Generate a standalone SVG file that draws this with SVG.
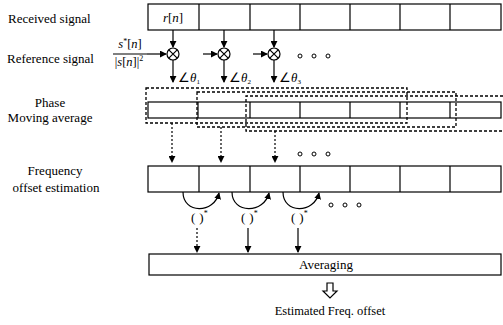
<svg xmlns="http://www.w3.org/2000/svg" width="503" height="325" viewBox="0 0 503 325">
<defs>
<marker id="ah" viewBox="0 0 8 8" refX="7" refY="4" markerWidth="7" markerHeight="7" markerUnits="userSpaceOnUse" orient="auto">
<path d="M0,0 L8,4 L0,8 Z" fill="#000"/>
</marker>
</defs>
<style>
.t{font-family:"Liberation Serif","Times New Roman",serif;font-size:13px;fill:#000}
.tm{text-anchor:middle}
.i{font-style:italic}
.box{fill:#fff;stroke:#000;stroke-width:1.2}
.ln{fill:none;stroke:#000;stroke-width:1.2}
.dash{fill:none;stroke:#000;stroke-width:1.3;stroke-dasharray:3,2}
.arr{fill:none;stroke:#000;stroke-width:1.2;marker-end:url(#ah)}
.darr{fill:none;stroke:#000;stroke-width:1.2;stroke-dasharray:2,2;marker-end:url(#ah)}
.dot{fill:#fff;stroke:#000;stroke-width:1}
</style>

<g id="labels">
<text class="t" x="8" y="23">Received signal</text>
<text class="t" x="7" y="63">Reference signal</text>
<text class="t tm" x="50" y="107">Phase</text>
<text class="t tm" x="50" y="122">Moving average</text>
<text class="t tm" x="55" y="175">Frequency</text>
<text class="t tm" x="56" y="192">offset estimation</text>
</g>

<g id="received">
<rect class="box" x="148" y="4" width="353" height="26"/>
<path class="ln" d="M199,4V30M250,4V30M300,4V30M350,4V30M400,4V30M450,4V30"/>
<text class="t tm i" x="173" y="22">r<tspan font-style="normal">[</tspan>n<tspan font-style="normal">]</tspan></text>
</g>

<g id="reference">
<text class="t tm" x="130" y="48" style="font-size:12.5px"><tspan class="i">s</tspan><tspan dy="-4" font-size="8">*</tspan><tspan dy="4">[</tspan><tspan class="i">n</tspan>]</text>
<text class="t tm" x="129" y="66" style="font-size:12.5px">|<tspan class="i">s</tspan>[<tspan class="i">n</tspan>]|<tspan dy="-5" font-size="8">2</tspan></text>
</g>

<g id="mult1"><circle class="box" cx="173" cy="54" r="6"/><path class="ln" d="M168.8,49.8L177.2,58.2M177.2,49.8L168.8,58.2"/></g>
<g id="mult2"><circle class="box" cx="224" cy="54" r="6"/><path class="ln" d="M219.8,49.8L228.2,58.2M228.2,49.8L219.8,58.2"/></g>
<g id="mult3"><circle class="box" cx="274" cy="54" r="6"/><path class="ln" d="M269.8,49.8L278.2,58.2M278.2,49.8L269.8,58.2"/></g>

<g id="dots1">
<circle class="dot" cx="300" cy="56" r="2"/><circle class="dot" cx="314" cy="56" r="2"/><circle class="dot" cx="328" cy="56" r="2"/>
</g>

<g id="angles">
<text class="t" x="178" y="82">∠<tspan class="i">θ</tspan><tspan font-size="7" dy="2">1</tspan></text>
<text class="t" x="229" y="82">∠<tspan class="i">θ</tspan><tspan font-size="7" dy="2">2</tspan></text>
<text class="t" x="279" y="82">∠<tspan class="i">θ</tspan><tspan font-size="7" dy="2">3</tspan></text>
</g>

<g id="moving-average">
<rect class="box" x="148" y="102" width="353" height="16"/>
<path class="ln" d="M198,102V118M250,102V118M300,102V118M350,102V118M400,102V118M450,102V118"/>
<rect class="dash" x="146" y="88" width="261" height="35"/>
<rect class="dash" x="197" y="92" width="259" height="35"/>
<path class="dash" d="M503,96H246V131H503"/>
</g>

<g id="freq-offset">
<rect class="box" x="148" y="166" width="353" height="26"/>
<path class="ln" d="M199,166V192M250,166V192M300,166V192M350,166V192M400,166V192M450,166V192"/>
</g>

<g id="dots2">
<circle class="dot" cx="300" cy="154" r="2"/><circle class="dot" cx="314" cy="154" r="2"/><circle class="dot" cx="328" cy="154" r="2"/>
</g>

<g id="conj">
<text class="t" x="191" y="222">(<tspan dx="4">)</tspan><tspan dy="-6" font-size="8">*</tspan></text>
<text class="t" x="241" y="222">(<tspan dx="4">)</tspan><tspan dy="-6" font-size="8">*</tspan></text>
<text class="t" x="291" y="222">(<tspan dx="4">)</tspan><tspan dy="-6" font-size="8">*</tspan></text>
</g>

<g id="dots3">
<circle class="dot" cx="331" cy="205" r="2"/><circle class="dot" cx="345" cy="205" r="2"/><circle class="dot" cx="359" cy="205" r="2"/>
</g>

<g id="averaging">
<rect class="box" x="149" y="254" width="352" height="21"/>
<text class="t tm" x="326" y="269">Averaging</text>
</g>

<g id="output">
<path class="box" d="M327,283H333V291H337L330,298L323,291H327Z"/>
<text class="t tm" x="330" y="315" style="font-size:12.5px">Estimated Freq. offset</text>
</g>

<g id="connectors">
<path class="arr" d="M173,30V47"/>
<path class="arr" d="M224,30V47"/>
<path class="arr" d="M274,30V47"/>
<path class="ln" d="M113,54H147"/>
<path class="arr" d="M147,54H166"/>
<path class="arr" d="M203,54H217"/>
<path class="arr" d="M253,54H267"/>
<path class="arr" d="M173,60V82"/>
<path class="arr" d="M224,60V82"/>
<path class="arr" d="M274,60V82"/>
<path class="darr" d="M172,123V162"/>
<path class="darr" d="M221,127V162"/>
<path class="darr" d="M275,131V162"/>
<path class="arr" d="M183,192C183,214 214,214 219,193"/>
<path class="arr" d="M232,192C232,214 264,214 269,193"/>
<path class="arr" d="M283,192C283,214 314,214 319,193"/>
<path class="darr" d="M197,228V252"/>
<path class="arr" d="M248,228V252"/>
<path class="arr" d="M298,228V252"/>
</g>
</svg>
